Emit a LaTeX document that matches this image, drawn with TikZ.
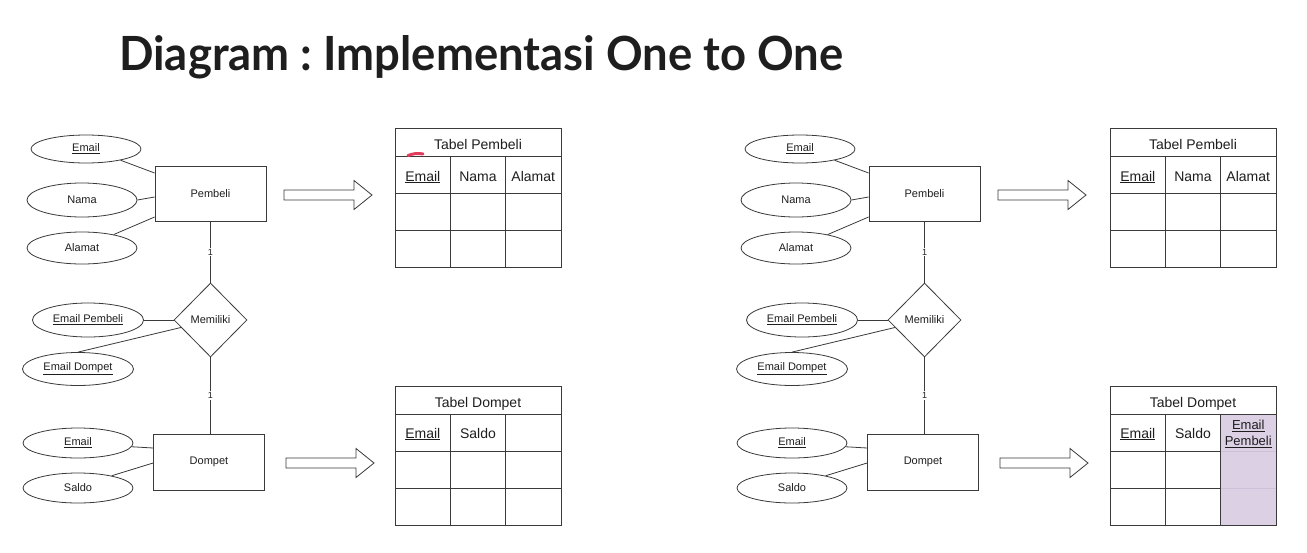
\documentclass[tikz,border=0pt]{standalone}
\usepackage{fontspec}
\usepackage{graphicx}
\setmainfont{Liberation Sans}
\newfontfamily\titlefont{Lato}
\usetikzlibrary{shapes.geometric,calc}
\frenchspacing
\definecolor{ln}{HTML}{3A3A3A}
\definecolor{tx}{HTML}{1E1E1E}
\definecolor{lilac}{HTML}{DCD0E5}
\definecolor{lilacln}{HTML}{CDC1DA}
\definecolor{pen}{HTML}{E23C5C}
\tikzset{
  attr/.style={ellipse, draw=ln, line width=0.8pt, inner sep=0pt, text=tx,
    font=\fontsize{11}{13}\selectfont, minimum width=110pt},
  ent/.style={rectangle, draw=ln, line width=0.8pt, inner sep=0pt, text=tx,
    font=\fontsize{11}{13}\selectfont, minimum width=111pt, minimum height=55pt},
  rel/.style={diamond, draw=ln, line width=0.8pt, inner sep=0pt, text=tx,
    font=\fontsize{11}{13}\selectfont, minimum width=73pt, minimum height=74pt},
  link/.style={draw=ln, line width=0.8pt},
  card/.style={fill=white, font=\fontsize{9}{9}\selectfont, inner sep=1pt, text=tx},
  blockarrow/.style={draw=ln, line width=0.8pt, fill=white, line join=miter},
  tline/.style={draw=ln, line width=1pt},
  cell/.style={font=\fontsize{14}{16}\selectfont, text=tx, inner sep=0pt, anchor=base},
}
\newcommand\erdiagram{%
  \node[attr, minimum height=28pt] (ae) at (86,149) {\underline{Email}};
  \node[attr, minimum height=34pt] (an) at (82,200) {Nama};
  \node[attr, minimum height=32pt] (aa) at (82,248) {Alamat};
  \node[ent] (pb) at (210.5,193.5) {Pembeli};
  \node[rel] (rl) at (210.5,320) {Memiliki};
  \node[attr, minimum width=111pt, minimum height=34pt] (aep) at (88,320) {\underline{Email Pembeli}};
  \node[attr, minimum width=111pt, minimum height=33pt] (aed) at (78,369) {\underline{Email Dompet}};
  \node[ent, minimum height=56pt] (dp) at (209,462) {Dompet};
  \node[attr, minimum height=30pt] (ade) at (78,443) {\underline{Email}};
  \node[attr, minimum height=30pt] (asd) at (78,488) {Saldo};
  \draw[link] (ae.-18) -- ([yshift=20.5pt]pb.west);
  \draw[link] (an.east) -- ([yshift=-3.5pt]pb.west);
  \draw[link] (aa.23) -- ([yshift=-23.5pt]pb.west);
  \draw[link] (pb.south) -- node[card]{1} (rl.north);
  \draw[link] (aep.east) -- (rl.west);
  \draw[link] (aed.north) -- ($(rl.west)!0.2!(rl.south)$);
  \draw[link] (rl.south) -- node[card]{1} (rl.south |- dp.north);
  \draw[link] (ade.-4) -- ([yshift=14pt]dp.west);
  \draw[link] (asd.20) -- ([yshift=-1pt]dp.west);
  \coordinate (ar1) at (284,195);
  \coordinate (ar2) at (286,463);
  \draw[blockarrow] (ar1) ++(0,-5) -- ++(70,0) -- ++(0,-9.5) -- ++(18,14.5)
    -- ++(-18,14.5) -- ++(0,-9.5) -- ++(-70,0) -- cycle;
  \draw[blockarrow] (ar2) ++(0,-5) -- ++(70,0) -- ++(0,-9.5) -- ++(18,14.5)
    -- ++(-18,14.5) -- ++(0,-9.5) -- ++(-70,0) -- cycle;
}
\newcommand\tabelgrid{%
  \draw[tline] (0,0) rectangle (166,138.5);
  \draw[tline] (0,28) -- (166,28);
  \draw[tline] (0,64.5) -- (166,64.5);
  \draw[tline] (0,101.5) -- (166,101.5);
  \draw[tline] (55.5,28) -- (55.5,138.5);
  \draw[tline] (110.5,28) -- (110.5,138.5);
}
\begin{document}
\begin{tikzpicture}[x=1pt, y=-1pt]
  \useasboundingbox[fill=white] (0,0) rectangle (1307,552);
  % title
  \node[anchor=base west, inner sep=0pt, text=tx] (title) at (119,70)
    {\resizebox{724pt}{35pt}{\titlefont\bfseries Diagram : Implementasi One to One}};
  % left ER diagram
  \begin{scope}[name prefix=L-]
    \erdiagram
  \end{scope}
  % right ER diagram
  \begin{scope}[xshift=714pt, name prefix=R-]
    \erdiagram
  \end{scope}
  % left Tabel Pembeli
  \begin{scope}[shift={(395,128.5)}]
    \tabelgrid
    \node[cell] (LtP) at (83,20.5) {Tabel Pembeli};
    \node[cell] (LtP1) at (27.75,52.5) {\underline{Email}};
    \node[cell] (LtP2) at (83,52.5) {Nama};
    \node[cell] (LtP3) at (138.25,52.5) {Alamat};
    \draw[pen, line width=3pt, line cap=round] (13,27) .. controls (18,25) and (23,24.5) .. (28,25.5);
  \end{scope}
  % left Tabel Dompet
  \begin{scope}[shift={(395,386.5)}]
    \tabelgrid
    \node[cell] (LtD) at (83,20.5) {Tabel Dompet};
    \node[cell] (LtD1) at (27.75,51.5) {\underline{Email}};
    \node[cell] (LtD2) at (83,51.5) {Saldo};
  \end{scope}
  % right Tabel Pembeli
  \begin{scope}[shift={(1110,128.5)}]
    \tabelgrid
    \node[cell] (RtP) at (83,20.5) {Tabel Pembeli};
    \node[cell] (RtP1) at (27.75,52.5) {\underline{Email}};
    \node[cell] (RtP2) at (83,52.5) {Nama};
    \node[cell] (RtP3) at (138.25,52.5) {Alamat};
  \end{scope}
  % right Tabel Dompet
  \begin{scope}[shift={(1110,386.5)}]
    \fill[lilac] (110.5,28) rectangle (166,138.5);
    \draw[tline] (0,0) rectangle (166,138.5);
    \draw[tline] (0,28) -- (166,28);
    \draw[tline] (0,64.5) -- (110.5,64.5);
    \draw[tline] (0,101.5) -- (110.5,101.5);
    \draw[lilacln, line width=1pt] (110.5,64.5) -- (166,64.5);
    \draw[lilacln, line width=1pt] (110.5,101.5) -- (166,101.5);
    \draw[tline] (55.5,28) -- (55.5,138.5);
    \draw[tline] (110.5,28) -- (110.5,138.5);
    \node[cell] (RtD) at (83,20.5) {Tabel Dompet};
    \node[cell] (RtD1) at (27.75,51.5) {\underline{Email}};
    \node[cell] (RtD2) at (83,51.5) {Saldo};
    \node[cell, anchor=center, align=center, font=\fontsize{13}{15.5}\selectfont]
      (RtD3) at (138.25,47.5) {\underline{Email}\\\underline{Pembeli}};
  \end{scope}
\end{tikzpicture}
\end{document}
